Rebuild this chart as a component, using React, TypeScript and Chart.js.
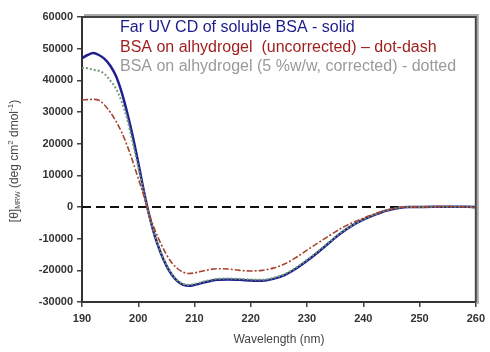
import React, { useEffect, useRef } from "react";
import { Chart, registerables } from "chart.js";

Chart.register(...registerables);

const wavelengths = [190,191,192,193,194,195,196,197,198,199,200,201,202,203,204,205,206,207,208,209,210,212,214,216,218,220,222,224,226,228,230,232,234,236,238,240,242,244,246,248,250,255,260];
const solubleBSA = [47000,48000,48600,48000,46800,44700,41500,36500,30000,22500,14000,5000,-3000,-9500,-14500,-18500,-21500,-23500,-24600,-24900,-24600,-23700,-23000,-22900,-23000,-23200,-23300,-22700,-21500,-19500,-17000,-14200,-11200,-8300,-5900,-4000,-2500,-1200,-400,0,0,100,0];
const uncorrected = [33800,33900,34000,33700,32200,30000,27200,23800,19500,14500,9000,3500,-2500,-7500,-11500,-15000,-17700,-19500,-20600,-21000,-20800,-20000,-19500,-19600,-20000,-20200,-20000,-19300,-18000,-16000,-13600,-11300,-9000,-6800,-5000,-3500,-2200,-1100,-300,100,0,200,-200];
const corrected = [44000,43800,43300,43000,42000,40000,37500,33500,28000,20500,12500,4500,-3000,-9300,-14200,-18200,-21200,-23200,-24300,-24600,-24300,-23400,-22700,-22600,-22700,-22900,-23000,-22400,-21200,-19200,-16700,-13900,-11000,-8100,-5800,-3900,-2400,-1100,-300,0,0,100,0];
const legendLines = [
  "Far UV CD of soluble BSA - solid",
  "BSA on alhydrogel  (uncorrected) \u2013 dot-dash",
  "BSA on alhydrogel (5 %w/w, corrected) - dotted",
];
const legendColors = ["#1c1c8c", "#9e1c1c", "#9a9a9a"];
const xTitle = "Wavelength (nm)";

export default function App() {
  const ref = useRef<HTMLCanvasElement | null>(null);
  useEffect(() => {
    if (!ref.current) return;
    const toPts = (vals: number[]) => wavelengths.map((x, i) => ({ x, y: vals[i] }));
    const decor = {
      id: "decor",
      beforeDatasetsDraw(chart: any) {
        const { ctx, chartArea: a, scales } = chart;
        const y0 = scales.y.getPixelForValue(0);
        ctx.save();
        ctx.strokeStyle = "#111";
        ctx.lineWidth = 2;
        ctx.setLineDash([9, 5]);
        ctx.beginPath();
        ctx.moveTo(a.left, y0);
        ctx.lineTo(a.right, y0);
        ctx.stroke();
        ctx.restore();
      },
      afterDraw(chart: any) {
        const { ctx, chartArea: a } = chart;
        ctx.save();
        ctx.strokeStyle = "#aaa";
        ctx.lineWidth = 2;
        ctx.beginPath();
        ctx.moveTo(a.left + 2, a.top - 2);
        ctx.lineTo(a.right + 2, a.top - 2);
        ctx.lineTo(a.right + 2, a.bottom + 2);
        ctx.stroke();
        ctx.strokeStyle = "#444";
        ctx.lineWidth = 2;
        ctx.beginPath();
        ctx.moveTo(a.left, a.top);
        ctx.lineTo(a.right, a.top);
        ctx.lineTo(a.right, a.bottom);
        ctx.stroke();
        ctx.font = "16px Arial, 'Liberation Sans', sans-serif";
        ctx.textBaseline = "middle";
        ctx.textAlign = "left";
        legendLines.forEach((t, i) => {
          ctx.fillStyle = legendColors[i];
          ctx.fillText(t, 120, 28 + i * 19.5);
        });
        ctx.fillStyle = "#444";
        ctx.font = "12px Arial, 'Liberation Sans', sans-serif";
        ctx.textAlign = "center";
        ctx.fillText(xTitle, (a.left + a.right) / 2, 340);
        ctx.translate(15, 161);
        ctx.rotate(-Math.PI / 2);
        const parts: [string, number, number][] = [
          ["[\u03B8]", 12, 0],
          ["MRW", 7, 3],
          [" (deg cm", 12, 0],
          ["2", 8, -4],
          [" dmol", 12, 0],
          ["-1", 8, -4],
          [")", 12, 0],
        ];
        let total = 0;
        parts.forEach(([t, s]) => {
          ctx.font = `${s}px Arial, 'Liberation Sans', sans-serif`;
          total += ctx.measureText(t).width;
        });
        let x = -total / 2;
        ctx.textAlign = "left";
        parts.forEach(([t, s, dy]) => {
          ctx.font = `${s}px Arial, 'Liberation Sans', sans-serif`;
          ctx.fillText(t, x, dy);
          x += ctx.measureText(t).width;
        });
        ctx.restore();
      },
    };
    const chart = new Chart(ref.current, {
      type: "line",
      data: {
        datasets: [
          {
            label: "uncorrected",
            data: toPts(uncorrected),
            borderColor: "#a5452e",
            borderWidth: 1.6,
            borderDash: [6, 2, 2, 2],
            pointRadius: 0,
            cubicInterpolationMode: "monotone",
          },
          {
            label: "corrected",
            data: toPts(corrected),
            borderColor: "#6f9a72",
            borderWidth: 2,
            borderDash: [2, 2],
            pointRadius: 0,
            cubicInterpolationMode: "monotone",
          },
          {
            label: "soluble",
            data: toPts(solubleBSA),
            borderColor: "#1f1f90",
            borderWidth: 2.5,
            pointRadius: 0,
            cubicInterpolationMode: "monotone",
          },
        ],
      },
      options: {
        animation: false,
        responsive: false,
        layout: { padding: { top: 17, right: 9, left: 0, bottom: 0 } },
        plugins: { legend: { display: false }, tooltip: { enabled: false } },
        scales: {
          x: {
            type: "linear",
            min: 190,
            max: 260,
            ticks: {
              stepSize: 10,
              color: "#333",
              font: { family: "Arial", size: 11, weight: "bold" },
              padding: 5,
              maxRotation: 0,
            },
            grid: { drawOnChartArea: false, drawTicks: true, tickLength: 5, color: "#444", lineWidth: 1.5 },
            border: { display: true, color: "#333", width: 2 },
            afterFit(s: any) { s.height = 50; },
          },
          y: {
            min: -30000,
            max: 60000,
            ticks: {
              stepSize: 10000,
              color: "#333",
              font: { family: "Arial", size: 11, weight: "bold" },
              padding: 4,
              callback: (v: any) => String(v),
            },
            grid: { drawOnChartArea: false, drawTicks: true, tickLength: 5, color: "#444", lineWidth: 1.5 },
            border: { display: true, color: "#333", width: 2 },
            afterFit(s: any) { s.width = 82; },
          },
        },
      },
      plugins: [decor],
    } as any);
    return () => chart.destroy();
  }, []);
  return (
    <div style={{ position: "fixed", left: 0, top: 0, width: 490, height: 352, background: "#fff" }}>
      <canvas ref={ref} width={490} height={352} />
    </div>
  );
}
